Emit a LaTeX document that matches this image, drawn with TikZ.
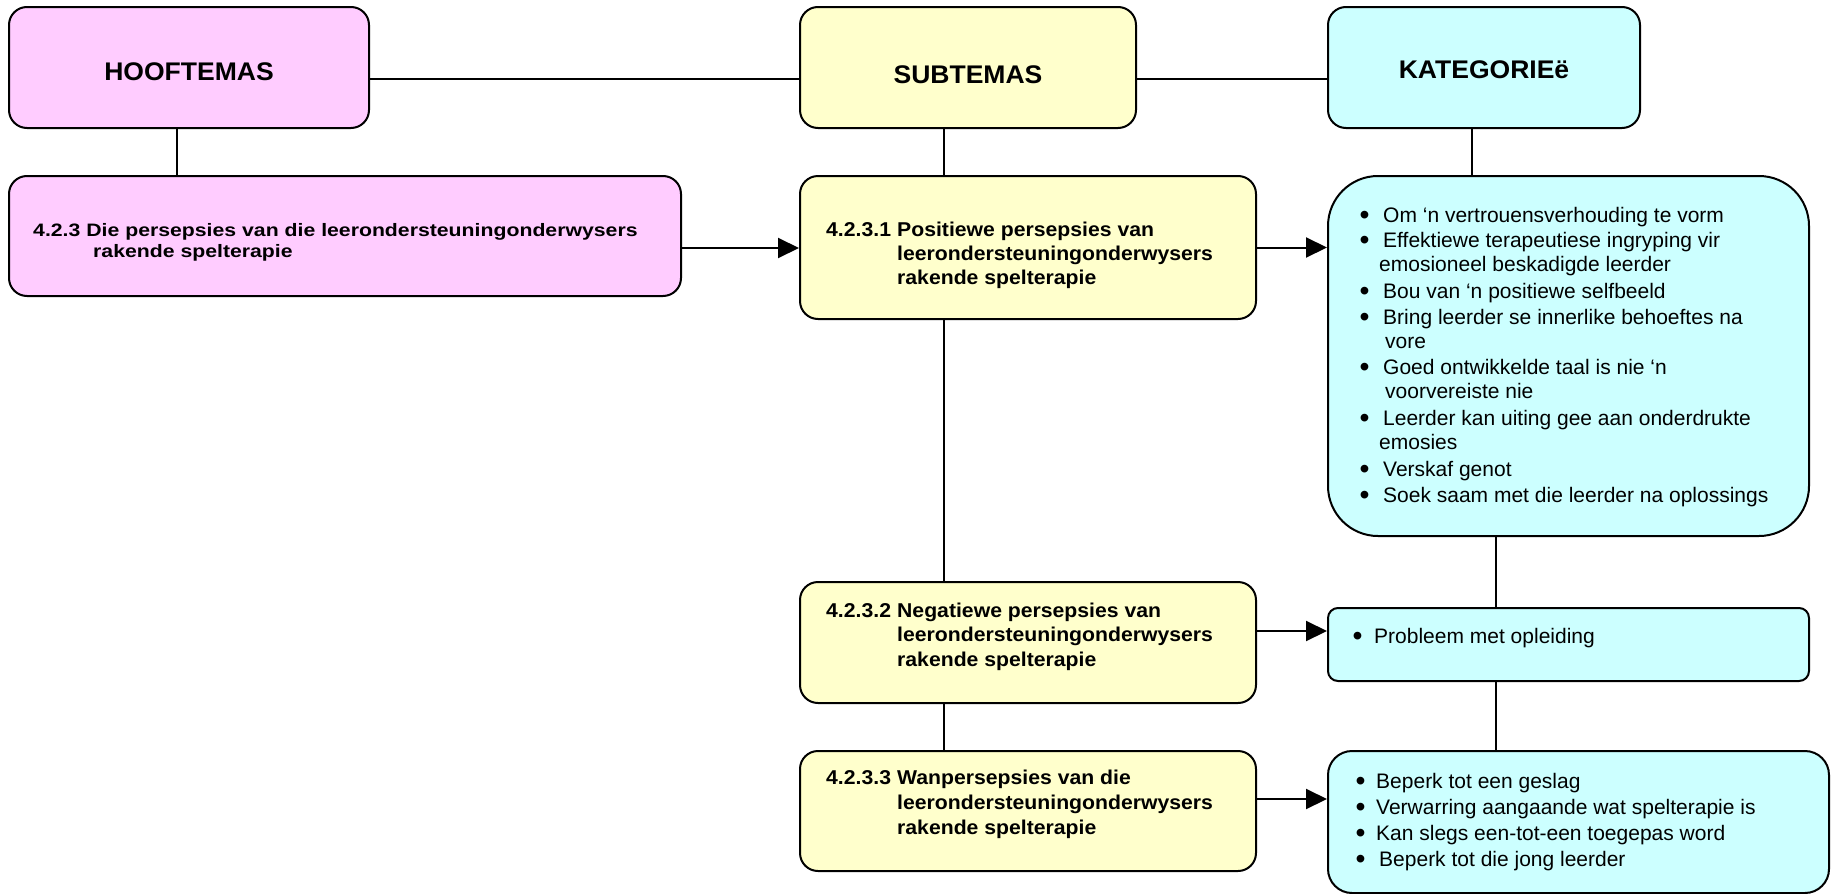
\documentclass[tikz,border=0pt]{standalone}
\usepackage{fontspec}
\setmainfont{Liberation Sans}
\newfontfamily\titlefont[FakeStretch=1.04]{Liberation Sans}
\newfontfamily\mainfont[FakeStretch=1.18]{Liberation Sans}
\newfontfamily\subfont[FakeStretch=1.06]{Liberation Sans}
\usetikzlibrary{arrows.meta}
\definecolor{pinkf}{HTML}{FFCCFF}
\definecolor{yelf}{HTML}{FFFFCC}
\definecolor{cyanf}{HTML}{CCFFFF}
\newcommand{\bul}[1]{\makebox[#1][l]{\hspace*{-0.6pt}\raisebox{-2.2pt}{\scalebox{1.35}{•}}}}
\tikzset{
  box/.style={draw=black, line width=2pt, rounded corners=18pt, inner sep=0pt},
  pinkbox/.style={box, fill=pinkf},
  yelbox/.style={box, fill=yelf},
  cyanbox/.style={box, fill=cyanf},
  titletxt/.style={anchor=base, inner sep=0pt, font=\titlefont\fontsize{25.5}{30}\selectfont\bfseries},
  maintxt/.style={anchor=base west, inner sep=0pt, font=\mainfont\fontsize{18}{21}\selectfont\bfseries},
  subtxt/.style={anchor=base west, inner sep=0pt, font=\subfont\fontsize{20}{24}\selectfont\bfseries},
  cattxt/.style={anchor=base west, inner sep=0pt, font=\fontsize{21}{25}\selectfont},
  conn/.style={draw=black, line width=1.6pt},
  vconn/.style={draw=black, line width=1.3pt},
  arr/.style={draw=black, line width=2pt, -{Triangle[length=21pt,width=20pt]}},
}
\begin{document}
\begin{tikzpicture}[x=1pt,y=-1pt]
\fill[white] (0,0) rectangle (1831,894);
\useasboundingbox (0,0) rectangle (1831,894);

% header boxes
\node[pinkbox, minimum width=360pt, minimum height=121pt] (hoof) at (189,67.5) {};
\node[yelbox, minimum width=336pt, minimum height=121pt] (sub) at (968,67.5) {};
\node[cyanbox, minimum width=312pt, minimum height=121pt] (kat) at (1484,67.5) {};

% content boxes
\node[pinkbox, minimum width=672pt, minimum height=120pt] (main) at (345,236) {};
\node[yelbox, minimum width=456pt, minimum height=143pt] (s1) at (1028,247.5) {};
\node[yelbox, minimum width=456pt, minimum height=121pt] (s2) at (1028,642.5) {};
\node[yelbox, minimum width=456pt, minimum height=120pt] (s3) at (1028,811) {};
\node[cyanbox, rounded corners=50pt, minimum width=481pt, minimum height=360pt] (c1) at (1568.5,356) {};
\node[cyanbox, rounded corners=10pt, minimum width=481pt, minimum height=73pt] (c2) at (1568.5,644.5) {};
\node[cyanbox, rounded corners=24pt, minimum width=501pt, minimum height=142pt] (c3) at (1578.5,822) {};

% connectors
\draw[conn] ([yshift=-11.5pt]hoof.east) -- ([yshift=-11.5pt]sub.west);
\draw[conn] ([yshift=-11.5pt]sub.east) -- ([yshift=-11.5pt]kat.west);
\draw[vconn] ([xshift=-12pt]hoof.south) -- ([xshift=-12pt]hoof.south |- main.north);
\draw[vconn] ([xshift=-24pt]sub.south) -- ([xshift=-24pt]sub.south |- s1.north);
\draw[vconn] ([xshift=-84pt]s1.south) -- ([xshift=-84pt]s1.south |- s2.north);
\draw[vconn] ([xshift=-84pt]s2.south) -- ([xshift=-84pt]s2.south |- s3.north);
\draw[vconn] ([xshift=-12pt]kat.south) -- ([xshift=-12pt]kat.south |- c1.north);
\draw[vconn] ([xshift=-72.5pt]c1.south) -- ([xshift=-72.5pt]c1.south |- c2.north);
\draw[vconn] ([xshift=-72.5pt]c2.south) -- ([xshift=-72.5pt]c2.south |- c3.north);
\draw[arr] ([yshift=-12pt]main.east) -- ([yshift=-12pt]main.east -| s1.west);
\draw[arr] (s1.east) -- (s1.east -| c1.west);
\draw[arr] ([yshift=11.5pt]s2.east) -- ([yshift=11.5pt]s2.east -| c2.west);
\draw[arr] ([yshift=12pt]s3.east) -- ([yshift=12pt]s3.east -| c3.west);

% titles
\node[titletxt] (ht) at (189,80) {HOOFTEMAS};
\node[titletxt] (st) at (968,83) {SUBTEMAS};
\node[titletxt] (kt) at (1484,78) {KATEGORIEë};

% main text
\node[maintxt] (m1) at (33,236) {4.2.3 Die persepsies van die leerondersteuningonderwysers};
\node[maintxt] (m2) at (93,257) {rakende spelterapie};

% sub texts
\node[subtxt] (s1a) at (826,236) {\makebox[71pt][l]{4.2.3.1}Positiewe persepsies van};
\node[subtxt] (s1b) at (897,260) {leerondersteuningonderwysers};
\node[subtxt] (s1c) at (897,284) {rakende spelterapie};
\node[subtxt] (s2a) at (826,617) {\makebox[71pt][l]{4.2.3.2}Negatiewe persepsies van};
\node[subtxt] (s2b) at (897,641.5) {leerondersteuningonderwysers};
\node[subtxt] (s2c) at (897,666) {rakende spelterapie};
\node[subtxt] (s3a) at (826,784) {\makebox[71pt][l]{4.2.3.3}Wanpersepsies van die};
\node[subtxt] (s3b) at (897,809) {leerondersteuningonderwysers};
\node[subtxt] (s3c) at (897,834) {rakende spelterapie};

% category 1
\node[cattxt] (k1) at (1360,222) {\bul{23pt}Om ‘n vertrouensverhouding te vorm};
\node[cattxt] (k2) at (1360,247) {\bul{23pt}Effektiewe terapeutiese ingryping vir};
\node[cattxt] (k3) at (1379,271) {emosioneel beskadigde leerder};
\node[cattxt] (k4) at (1360,298) {\bul{23pt}Bou van ‘n positiewe selfbeeld};
\node[cattxt] (k5) at (1360,324) {\bul{23pt}Bring leerder se innerlike behoeftes na};
\node[cattxt] (k6) at (1385,348) {vore};
\node[cattxt] (k7) at (1360,374) {\bul{23pt}Goed ontwikkelde taal is nie ‘n};
\node[cattxt] (k8) at (1385,398) {voorvereiste nie};
\node[cattxt] (k9) at (1360,425) {\bul{23pt}Leerder kan uiting gee aan onderdrukte};
\node[cattxt] (k10) at (1379,449) {emosies};
\node[cattxt] (k11) at (1360,476) {\bul{23pt}Verskaf genot};
\node[cattxt] (k12) at (1360,502) {\bul{23pt}Soek saam met die leerder na oplossings};

% category 2
\node[cattxt] (p1) at (1353,643) {\bul{21pt}Probleem met opleiding};

% category 3
\node[cattxt] (w1) at (1356,788) {\bul{20pt}Beperk tot een geslag};
\node[cattxt] (w2) at (1356,814) {\bul{20pt}Verwarring aangaande wat spelterapie is};
\node[cattxt] (w3) at (1356,840) {\bul{20pt}Kan slegs een-tot-een toegepas word};
\node[cattxt] (w4) at (1356,866) {\bul{23pt}Beperk tot die jong leerder};
\end{tikzpicture}
\end{document}
